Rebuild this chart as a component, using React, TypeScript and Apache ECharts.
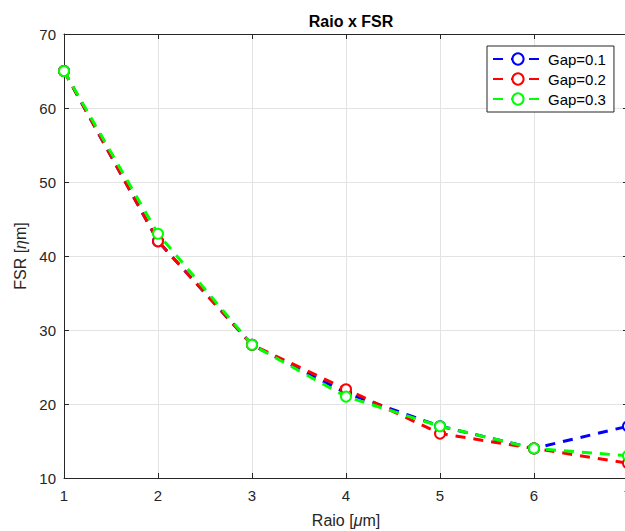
import React, { useEffect, useRef } from "react";
import * as echarts from "echarts";

const raio = [1, 2, 3, 4, 5, 6, 7];
const gap01 = [65, 42, 28, 21.5, 17, 14, 17];
const gap02 = [65, 42, 28, 22, 16, 14, 12];
const gap03 = [65, 43, 28, 21, 17, 14, 13];
const seriesNames = ["Gap=0.1", "Gap=0.2", "Gap=0.3"];
const seriesColors = ["#0000ff", "#ff0000", "#00ff00"];
const seriesData = [gap01, gap02, gap03];

const FONT = "Liberation Sans, Arial, Helvetica, sans-serif";
const AXIS = "#262626";

export default function App() {
  const ref = useRef<HTMLDivElement>(null);
  useEffect(() => {
    if (!ref.current) return;
    const chart = echarts.init(ref.current, undefined, { renderer: "svg" });
    const axisCommon = {
      axisLine: { show: true, onZero: false, lineStyle: { color: AXIS, width: 1 } },
      axisTick: { show: true, inside: true, length: 5, lineStyle: { color: AXIS } },
    };
    chart.setOption({
      animation: false,
      backgroundColor: "#ffffff",
      title: {
        text: "Raio x FSR",
        left: 346,
        top: 8,
        textAlign: "center",
        textStyle: { fontFamily: FONT, fontWeight: "bold", fontSize: 16, color: "#000" },
      },
      grid: { left: 64, top: 34, width: 564, height: 444, containLabel: false, outerBoundsMode: "none" },
      legend: {
        orient: "vertical",
        left: 487,
        top: 46,
        padding: [5, 8, 5, 5],
        itemGap: 4,
        itemWidth: 50,
        itemHeight: 14,
        backgroundColor: "#ffffff",
        borderColor: AXIS,
        borderWidth: 1,
        borderRadius: 0,
        textStyle: { fontFamily: FONT, fontSize: 15, color: "#000", lineHeight: 16 },
        data: seriesNames,
      },
      xAxis: [
        {
          type: "value",
          min: 1,
          max: 7,
          interval: 1,
          name: "Raio [{i|μ}m]",
          nameLocation: "middle",
          nameGap: 34,
          nameTextStyle: {
            fontFamily: FONT,
            fontSize: 16,
            color: AXIS,
            rich: { i: { fontStyle: "italic", fontFamily: FONT, fontSize: 16, color: AXIS } },
          },
          ...axisCommon,
          axisLabel: { color: AXIS, fontFamily: FONT, fontSize: 15, margin: 10 },
          splitLine: { show: true, lineStyle: { color: "#e3e3e3", width: 1 } },
        },
        {
          type: "value",
          position: "top",
          min: 1,
          max: 7,
          interval: 1,
          ...axisCommon,
          axisLabel: { show: false },
          splitLine: { show: false },
        },
      ],
      yAxis: [
        {
          type: "value",
          min: 10,
          max: 70,
          interval: 10,
          name: "FSR [{i|η}m]",
          nameLocation: "middle",
          nameGap: 36,
          nameRotate: 90,
          nameTextStyle: {
            fontFamily: FONT,
            fontSize: 16,
            color: AXIS,
            rich: { i: { fontStyle: "italic", fontFamily: FONT, fontSize: 16, color: AXIS } },
          },
          ...axisCommon,
          axisLabel: { color: AXIS, fontFamily: FONT, fontSize: 15, margin: 8 },
          splitLine: { show: true, lineStyle: { color: "#e3e3e3", width: 1 } },
        },
        {
          type: "value",
          position: "right",
          min: 10,
          max: 70,
          interval: 10,
          ...axisCommon,
          axisLabel: { show: false },
          splitLine: { show: false },
        },
      ],
      series: seriesNames.map((name, k) => ({
        name,
        type: "line",
        data: raio.map((x, i) => [x, seriesData[k][i]]),
        symbol: "emptyCircle",
        symbolSize: 10,
        showAllSymbol: true,
        clip: false,
        itemStyle: { color: seriesColors[k], borderColor: seriesColors[k], borderWidth: 2.5 },
        lineStyle: { color: seriesColors[k], width: 3, type: [10, 8] },
        emphasis: { disabled: true },
        z: 2 + k,
      })),
    });
    return () => chart.dispose();
  }, []);
  return <div ref={ref} style={{ width: 625, height: 531, position: "absolute", left: 0, top: 0 }} />;
}
